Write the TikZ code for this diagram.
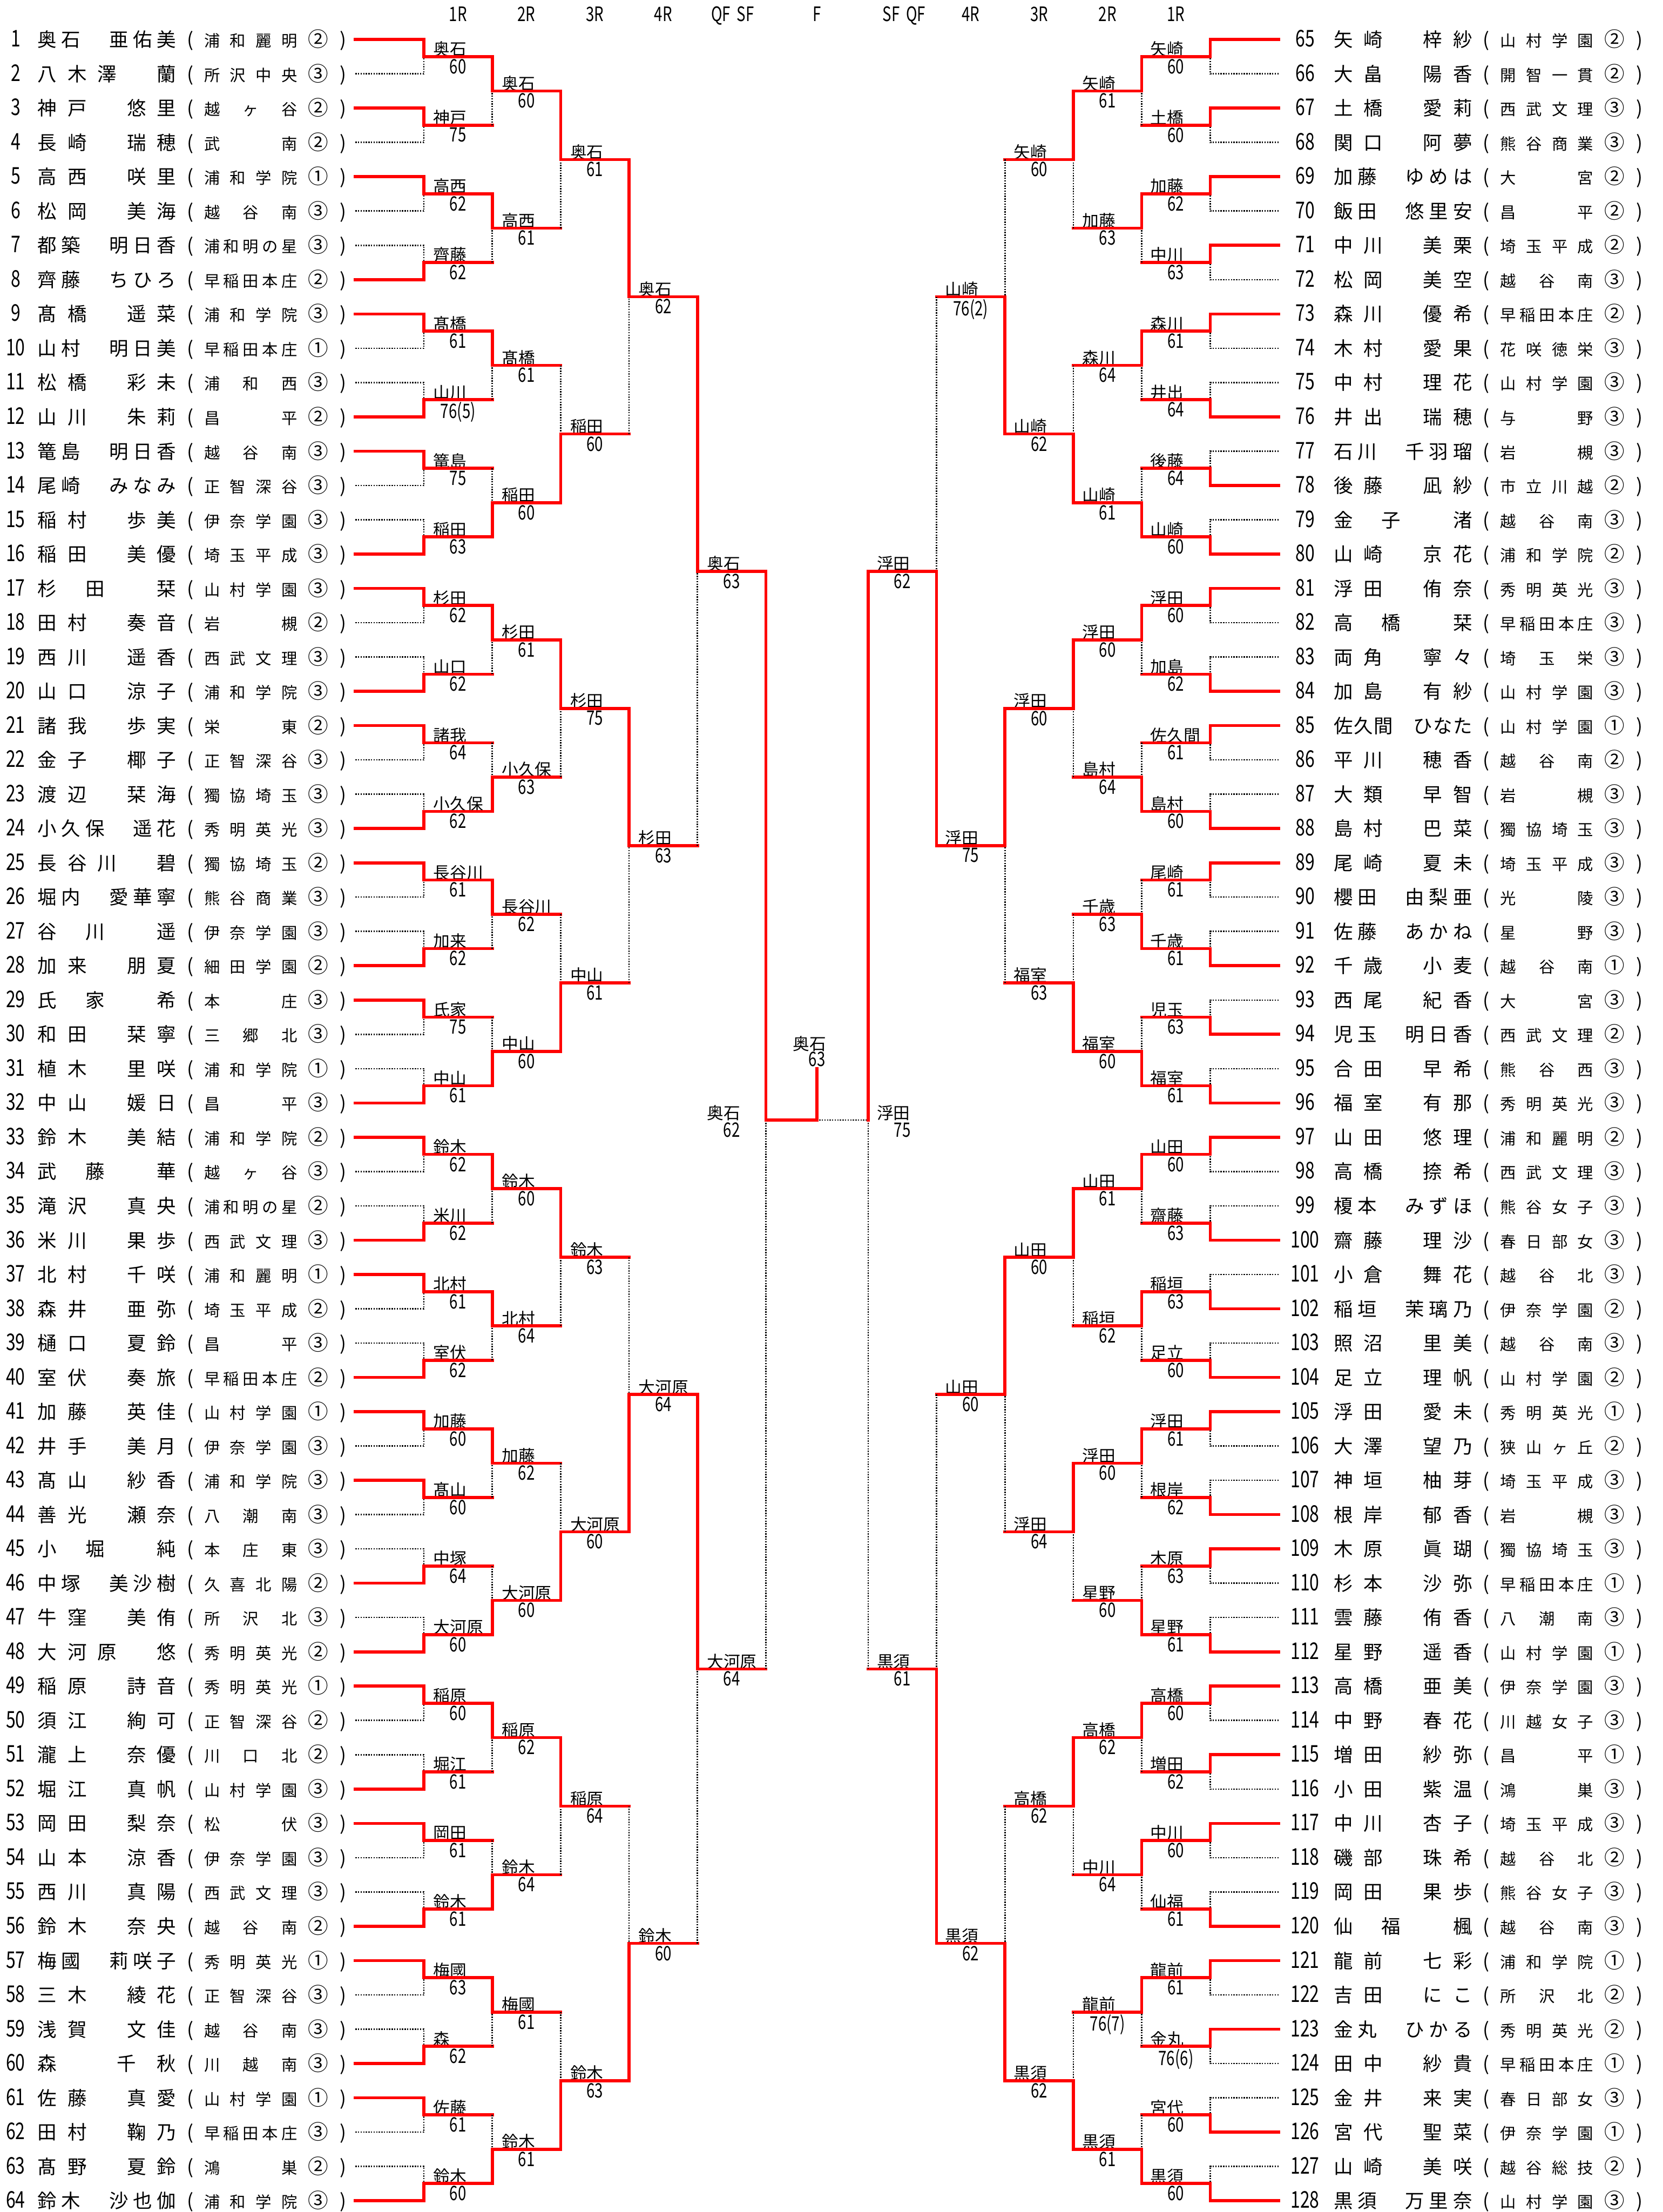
\documentclass[tikz,border=0pt]{standalone}
\usepackage{fontspec}
\setmainfont{Noto Sans CJK JP}
\definecolor{brred}{HTML}{FF0000}
\newlength\pxu
\setlength\pxu{0.2688mm}
\makeatletter
\def\spreadchars#1{\expandafter\spread@#1\@nil}
\def\spread@#1#2\@nil{#1\if\relax\detokenize{#2}\relax\else\hfill\spread@#2\@nil\fi}
\makeatother
\newcommand\dg[1]{\scalebox{0.9}[1.2]{#1}}
\newcommand\schfont{\fontsize{8.6}{10}\selectfont}
\newcommand\grfont{\fontsize{11}{12}\selectfont}
\newcommand\rowtext[5]{\makebox[#1]{\dg{#2}}\makebox[98\pxu][s]{\spreadchars{#3}}\makebox[20\pxu]{(}\makebox[66\pxu][s]{\schfont\spreadchars{#4}}\makebox[30\pxu]{\grfont #5}\makebox[5\pxu]{)}}
\tikzset{
  win/.style={draw=brred,line width=1.65pt,line cap=rect},
  lose/.style={draw=black,line width=0.75pt,dash pattern=on 0.7pt off 0.7pt},
  entry/.style={inner sep=0pt,anchor=base west,font=\fontsize{10.4}{12}\selectfont},
  lname/.style={inner sep=0pt,anchor=base west,font=\fontsize{9}{10}\selectfont},
  lscore/.style={inner sep=0pt,anchor=north,font=\fontsize{9}{10}\selectfont},
  fscore/.style={lscore,anchor=south},
  hdr/.style={inner sep=0pt,anchor=base,font=\fontsize{9}{10}\selectfont},
}

\begin{document}
\begin{tikzpicture}[x=0.2688mm,y=-0.2688mm]
\useasboundingbox (0,0) rectangle (1179,1568);

% round headers
\foreach \x/\t [count=\k] in {324.75/1R, 373.25/2R, 421.75/3R, 470.25/4R, 519.5/QF\hspace{5\pxu}SF, 579.25/F, 641/SF\hspace{5\pxu}QF, 688.25/4R, 736.75/3R, 785.25/2R, 833.75/1R}
  \node[hdr] (h\k) at (\x,15) {\dg{\t}};

% slot points: L/R = start of a line, LE/RE = its end
\foreach \r in {0,...,5}{
  \pgfmathtruncatemacro\nn{64/2^\r}
  \foreach \s in {1,...,\nn}{
    \pgfmathsetmacro\yy{28+24.317*((\s-1)*2^\r+(2^\r-1)/2)}
    \coordinate (L\r-\s) at ({252+48.5*\r},\yy);
    \coordinate (LE\r-\s) at ({300.5+48.5*\r},\yy);
    \coordinate (R\r-\s) at ({906.5-48.5*\r},\yy);
    \coordinate (RE\r-\s) at ({858-48.5*\r},\yy);
  }
}
\coordinate (L6-1) at (543,794);
\coordinate (R6-1) at (615.5,794);
\coordinate (F) at (579.25,794);
\coordinate (FT) at (579.25,757.6);

% players, left
\foreach \pn/\nm/\sch/\gr in {1/奥石　亜佑美/浦和麗明/②, 2/八木澤　蘭/所沢中央/③, 3/神戸　悠里/越ヶ谷/②, 4/長崎　瑞穂/武南/②, 5/高西　咲里/浦和学院/①, 6/松岡　美海/越谷南/③, 7/都築　明日香/浦和明の星/③, 8/齊藤　ちひろ/早稲田本庄/②, 9/髙橋　遥菜/浦和学院/③, 10/山村　明日美/早稲田本庄/①, 11/松橋　彩未/浦和西/③, 12/山川　朱莉/昌平/②, 13/篭島　明日香/越谷南/③, 14/尾崎　みなみ/正智深谷/③, 15/稲村　歩美/伊奈学園/③, 16/稲田　美優/埼玉平成/③, 17/杉　田　　栞/山村学園/③, 18/田村　奏音/岩槻/②, 19/西川　遥香/西武文理/③, 20/山口　涼子/浦和学院/③, 21/諸我　歩実/栄東/②, 22/金子　椰子/正智深谷/③, 23/渡辺　栞海/獨協埼玉/③, 24/小久保　遥花/秀明英光/③, 25/長谷川　碧/獨協埼玉/②, 26/堀内　愛華寧/熊谷商業/③, 27/谷　川　　遥/伊奈学園/③, 28/加来　朋夏/細田学園/②, 29/氏　家　　希/本庄/③, 30/和田　栞寧/三郷北/③, 31/植木　里咲/浦和学院/①, 32/中山　媛日/昌平/③, 33/鈴木　美結/浦和学院/②, 34/武　藤　　華/越ヶ谷/③, 35/滝沢　真央/浦和明の星/②, 36/米川　果歩/西武文理/③, 37/北村　千咲/浦和麗明/①, 38/森井　亜弥/埼玉平成/②, 39/樋口　夏鈴/昌平/③, 40/室伏　奏旅/早稲田本庄/②, 41/加藤　英佳/山村学園/①, 42/井手　美月/伊奈学園/③, 43/髙山　紗香/浦和学院/③, 44/善光　瀬奈/八潮南/③, 45/小　堀　　純/本庄東/③, 46/中塚　美沙樹/久喜北陽/②, 47/牛窪　美侑/所沢北/③, 48/大河原　悠/秀明英光/②, 49/稲原　詩音/秀明英光/①, 50/須江　絢可/正智深谷/②, 51/瀧上　奈優/川口北/②, 52/堀江　真帆/山村学園/③, 53/岡田　梨奈/松伏/③, 54/山本　涼香/伊奈学園/③, 55/西川　真陽/西武文理/③, 56/鈴木　奈央/越谷南/②, 57/梅國　莉咲子/秀明英光/①, 58/三木　綾花/正智深谷/③, 59/浅賀　文佳/越谷南/③, 60/森　　　千　秋/川越南/③, 61/佐藤　真愛/山村学園/①, 62/田村　鞠乃/早稲田本庄/③, 63/髙野　夏鈴/鴻巣/②, 64/鈴木　沙也伽/浦和学院/③}{
  \pgfmathsetmacro\yy{28+24.317*(\pn-1)}
  \node[entry] (p\pn) at (-4.9,\yy+5.2) {\rowtext{31.4\pxu}{\pn}{\nm}{\sch}{\gr}};
}

% players, right
\foreach \pn/\nm/\sch/\gr in {65/矢崎　梓紗/山村学園/②, 66/大畠　陽香/開智一貫/②, 67/土橋　愛莉/西武文理/③, 68/関口　阿夢/熊谷商業/③, 69/加藤　ゆめは/大宮/②, 70/飯田　悠里安/昌平/②, 71/中川　美栗/埼玉平成/②, 72/松岡　美空/越谷南/③, 73/森川　優希/早稲田本庄/②, 74/木村　愛果/花咲徳栄/③, 75/中村　理花/山村学園/③, 76/井出　瑞穂/与野/③, 77/石川　千羽瑠/岩槻/③, 78/後藤　凪紗/市立川越/②, 79/金　子　　渚/越谷南/③, 80/山崎　京花/浦和学院/②, 81/浮田　侑奈/秀明英光/③, 82/高　橋　　栞/早稲田本庄/③, 83/両角　寧々/埼玉栄/③, 84/加島　有紗/山村学園/③, 85/佐久間　ひなた/山村学園/①, 86/平川　穂香/越谷南/②, 87/大類　早智/岩槻/③, 88/島村　巴菜/獨協埼玉/③, 89/尾崎　夏未/埼玉平成/③, 90/櫻田　由梨亜/光陵/③, 91/佐藤　あかね/星野/③, 92/千歳　小麦/越谷南/①, 93/西尾　紀香/大宮/③, 94/児玉　明日香/西武文理/②, 95/合田　早希/熊谷西/③, 96/福室　有那/秀明英光/③, 97/山田　悠理/浦和麗明/②, 98/高橋　捺希/西武文理/③, 99/榎本　みずほ/熊谷女子/③, 100/齋藤　理沙/春日部女/③, 101/小倉　舞花/越谷北/③, 102/稲垣　茉璃乃/伊奈学園/②, 103/照沼　里美/越谷南/③, 104/足立　理帆/山村学園/②, 105/浮田　愛未/秀明英光/①, 106/大澤　望乃/狭山ヶ丘/②, 107/神垣　柚芽/埼玉平成/③, 108/根岸　郁香/岩槻/③, 109/木原　眞瑚/獨協埼玉/③, 110/杉本　沙弥/早稲田本庄/①, 111/雲藤　侑香/八潮南/③, 112/星野　遥香/山村学園/①, 113/高橋　亜美/伊奈学園/③, 114/中野　春花/川越女子/③, 115/増田　紗弥/昌平/①, 116/小田　紫温/鴻巣/③, 117/中川　杏子/埼玉平成/③, 118/磯部　珠希/越谷北/②, 119/岡田　果歩/熊谷女子/③, 120/仙　福　　楓/越谷南/③, 121/龍前　七彩/浦和学院/①, 122/吉田　にこ/所沢北/②, 123/金丸　ひかる/秀明英光/②, 124/田中　紗貴/早稲田本庄/①, 125/金井　来実/春日部女/③, 126/宮代　聖菜/伊奈学園/①, 127/山崎　美咲/越谷総技/②, 128/黒須　万里奈/山村学園/③}{
  \pgfmathsetmacro\yy{28+24.317*(\pn-65)}
  \node[entry] (p\pn) at (904.5,\yy+5.2) {\rowtext{41\pxu}{\pn}{\nm}{\sch}{\gr}};
}

% left, first round
\foreach \m/\w/\nm/\res in {1/1/奥石/60, 2/1/神戸/75, 3/1/高西/62, 4/2/齊藤/62, 5/1/髙橋/61, 6/2/山川/76(5), 7/1/篭島/75, 8/2/稲田/63, 9/1/杉田/62, 10/2/山口/62, 11/1/諸我/64, 12/2/小久保/62, 13/1/長谷川/61, 14/2/加来/62, 15/1/氏家/75, 16/2/中山/61, 17/1/鈴木/62, 18/2/米川/62, 19/1/北村/61, 20/2/室伏/62, 21/1/加藤/60, 22/1/髙山/60, 23/2/中塚/64, 24/2/大河原/60, 25/1/稲原/60, 26/2/堀江/61, 27/1/岡田/61, 28/2/鈴木/61, 29/1/梅國/63, 30/2/森/62, 31/1/佐藤/61, 32/2/鈴木/60}{
  \pgfmathtruncatemacro\ws{2*\m-2+\w}
  \pgfmathtruncatemacro\ls{2*\m+1-\w}
  \node[lname] (na1-\m) at ([xshift=6.5\pxu,yshift=0.8\pxu]L1-\m) {\nm};
  \node[lscore] (sa1-\m) at ([xshift=24.25\pxu,yshift=-1.5\pxu]L1-\m) {\dg{\res}};
  \draw[lose] (L0-\ls) -- (LE0-\ls) -- (L1-\m);
  \draw[win] (L0-\ws) -- (LE0-\ws) -- (L1-\m) -- (LE1-\m);
}

% left, rounds 2 to QF
\foreach \rd/\m/\w/\nm/\res in {2/1/1/奥石/60, 2/2/1/高西/61, 2/3/1/髙橋/61, 2/4/2/稲田/60, 2/5/1/杉田/61, 2/6/2/小久保/63, 2/7/1/長谷川/62, 2/8/2/中山/60, 2/9/1/鈴木/60, 2/10/1/北村/64, 2/11/1/加藤/62, 2/12/2/大河原/60, 2/13/1/稲原/62, 2/14/2/鈴木/64, 2/15/1/梅國/61, 2/16/2/鈴木/61, 3/1/1/奥石/61, 3/2/2/稲田/60, 3/3/1/杉田/75, 3/4/2/中山/61, 3/5/1/鈴木/63, 3/6/2/大河原/60, 3/7/1/稲原/64, 3/8/2/鈴木/63, 4/1/1/奥石/62, 4/2/1/杉田/63, 4/3/2/大河原/64, 4/4/2/鈴木/60, 5/1/1/奥石/63, 5/2/1/大河原/64}{
  \pgfmathtruncatemacro\pr{\rd-1}
  \pgfmathtruncatemacro\ws{2*\m-2+\w}
  \pgfmathtruncatemacro\ls{2*\m+1-\w}
  \node[lname] (na\rd-\m) at ([xshift=6.5\pxu,yshift=0.8\pxu]L\rd-\m) {\nm};
  \node[lscore] (sa\rd-\m) at ([xshift=24.25\pxu,yshift=-1.5\pxu]L\rd-\m) {\dg{\res}};
  \draw[lose] (LE\pr-\ls) -- (L\rd-\m);
  \draw[win] (LE\pr-\ws) -- (L\rd-\m) -- (LE\rd-\m);
}

% right, first round
\foreach \m/\w/\nm/\res in {1/1/矢崎/60, 2/1/土橋/60, 3/1/加藤/62, 4/1/中川/63, 5/1/森川/61, 6/2/井出/64, 7/2/後藤/64, 8/2/山崎/60, 9/1/浮田/60, 10/2/加島/62, 11/1/佐久間/61, 12/2/島村/60, 13/1/尾崎/61, 14/2/千歳/61, 15/2/児玉/63, 16/2/福室/61, 17/1/山田/60, 18/2/齋藤/63, 19/2/稲垣/63, 20/2/足立/60, 21/1/浮田/61, 22/2/根岸/62, 23/1/木原/63, 24/2/星野/61, 25/1/高橋/60, 26/1/増田/62, 27/1/中川/60, 28/2/仙福/61, 29/1/龍前/61, 30/1/金丸/76(6), 31/2/宮代/60, 32/2/黒須/60}{
  \pgfmathtruncatemacro\ws{2*\m-2+\w}
  \pgfmathtruncatemacro\ls{2*\m+1-\w}
  \node[lname] (nb1-\m) at ([xshift=6\pxu,yshift=0.8\pxu]RE1-\m) {\nm};
  \node[lscore] (sb1-\m) at ([xshift=24.25\pxu,yshift=-1.5\pxu]RE1-\m) {\dg{\res}};
  \draw[lose] (R0-\ls) -- (RE0-\ls) -- (R1-\m);
  \draw[win] (R0-\ws) -- (RE0-\ws) -- (R1-\m) -- (RE1-\m);
}

% right, rounds 2 to QF
\foreach \rd/\m/\w/\nm/\res in {2/1/1/矢崎/61, 2/2/1/加藤/63, 2/3/1/森川/64, 2/4/2/山崎/61, 2/5/1/浮田/60, 2/6/2/島村/64, 2/7/2/千歳/63, 2/8/2/福室/60, 2/9/1/山田/61, 2/10/1/稲垣/62, 2/11/1/浮田/60, 2/12/2/星野/60, 2/13/1/高橋/62, 2/14/1/中川/64, 2/15/1/龍前/76(7), 2/16/2/黒須/61, 3/1/1/矢崎/60, 3/2/2/山崎/62, 3/3/1/浮田/60, 3/4/2/福室/63, 3/5/1/山田/60, 3/6/1/浮田/64, 3/7/1/高橋/62, 3/8/2/黒須/62, 4/1/2/山崎/76(2), 4/2/1/浮田/75, 4/3/1/山田/60, 4/4/2/黒須/62, 5/1/2/浮田/62, 5/2/2/黒須/61}{
  \pgfmathtruncatemacro\pr{\rd-1}
  \pgfmathtruncatemacro\ws{2*\m-2+\w}
  \pgfmathtruncatemacro\ls{2*\m+1-\w}
  \node[lname] (nb\rd-\m) at ([xshift=6\pxu,yshift=0.8\pxu]RE\rd-\m) {\nm};
  \node[lscore] (sb\rd-\m) at ([xshift=24.25\pxu,yshift=-1.5\pxu]RE\rd-\m) {\dg{\res}};
  \draw[lose] (RE\pr-\ls) -- (R\rd-\m);
  \draw[win] (RE\pr-\ws) -- (R\rd-\m) -- (RE\rd-\m);
}

% semifinals and final
\node[lname] (sfa) at ([xshift=-42\pxu,yshift=0.8\pxu]L6-1) {奥石};
\node[lscore] (sfas) at ([xshift=-24.25\pxu,yshift=-1.5\pxu]L6-1) {\dg{62}};
\node[lname] (sfb) at ([xshift=6\pxu,yshift=0.8\pxu]R6-1) {浮田};
\node[lscore] (sfbs) at ([xshift=24.25\pxu,yshift=-1.5\pxu]R6-1) {\dg{75}};
\node[lname] (fin) at ([xshift=-17.25\pxu,yshift=13.1\pxu]FT) {奥石};
\node[fscore] (fins) at ([yshift=1.4\pxu]FT) {\dg{63}};
\draw[lose] (LE5-2) -- (L6-1);
\draw[lose] (RE5-2) -- (R6-1) -- (F);
\draw[win] (LE5-1) -- (L6-1) -- (F) -- (FT);
\draw[win] (RE5-1) -- (R6-1);
\end{tikzpicture}
\end{document}
